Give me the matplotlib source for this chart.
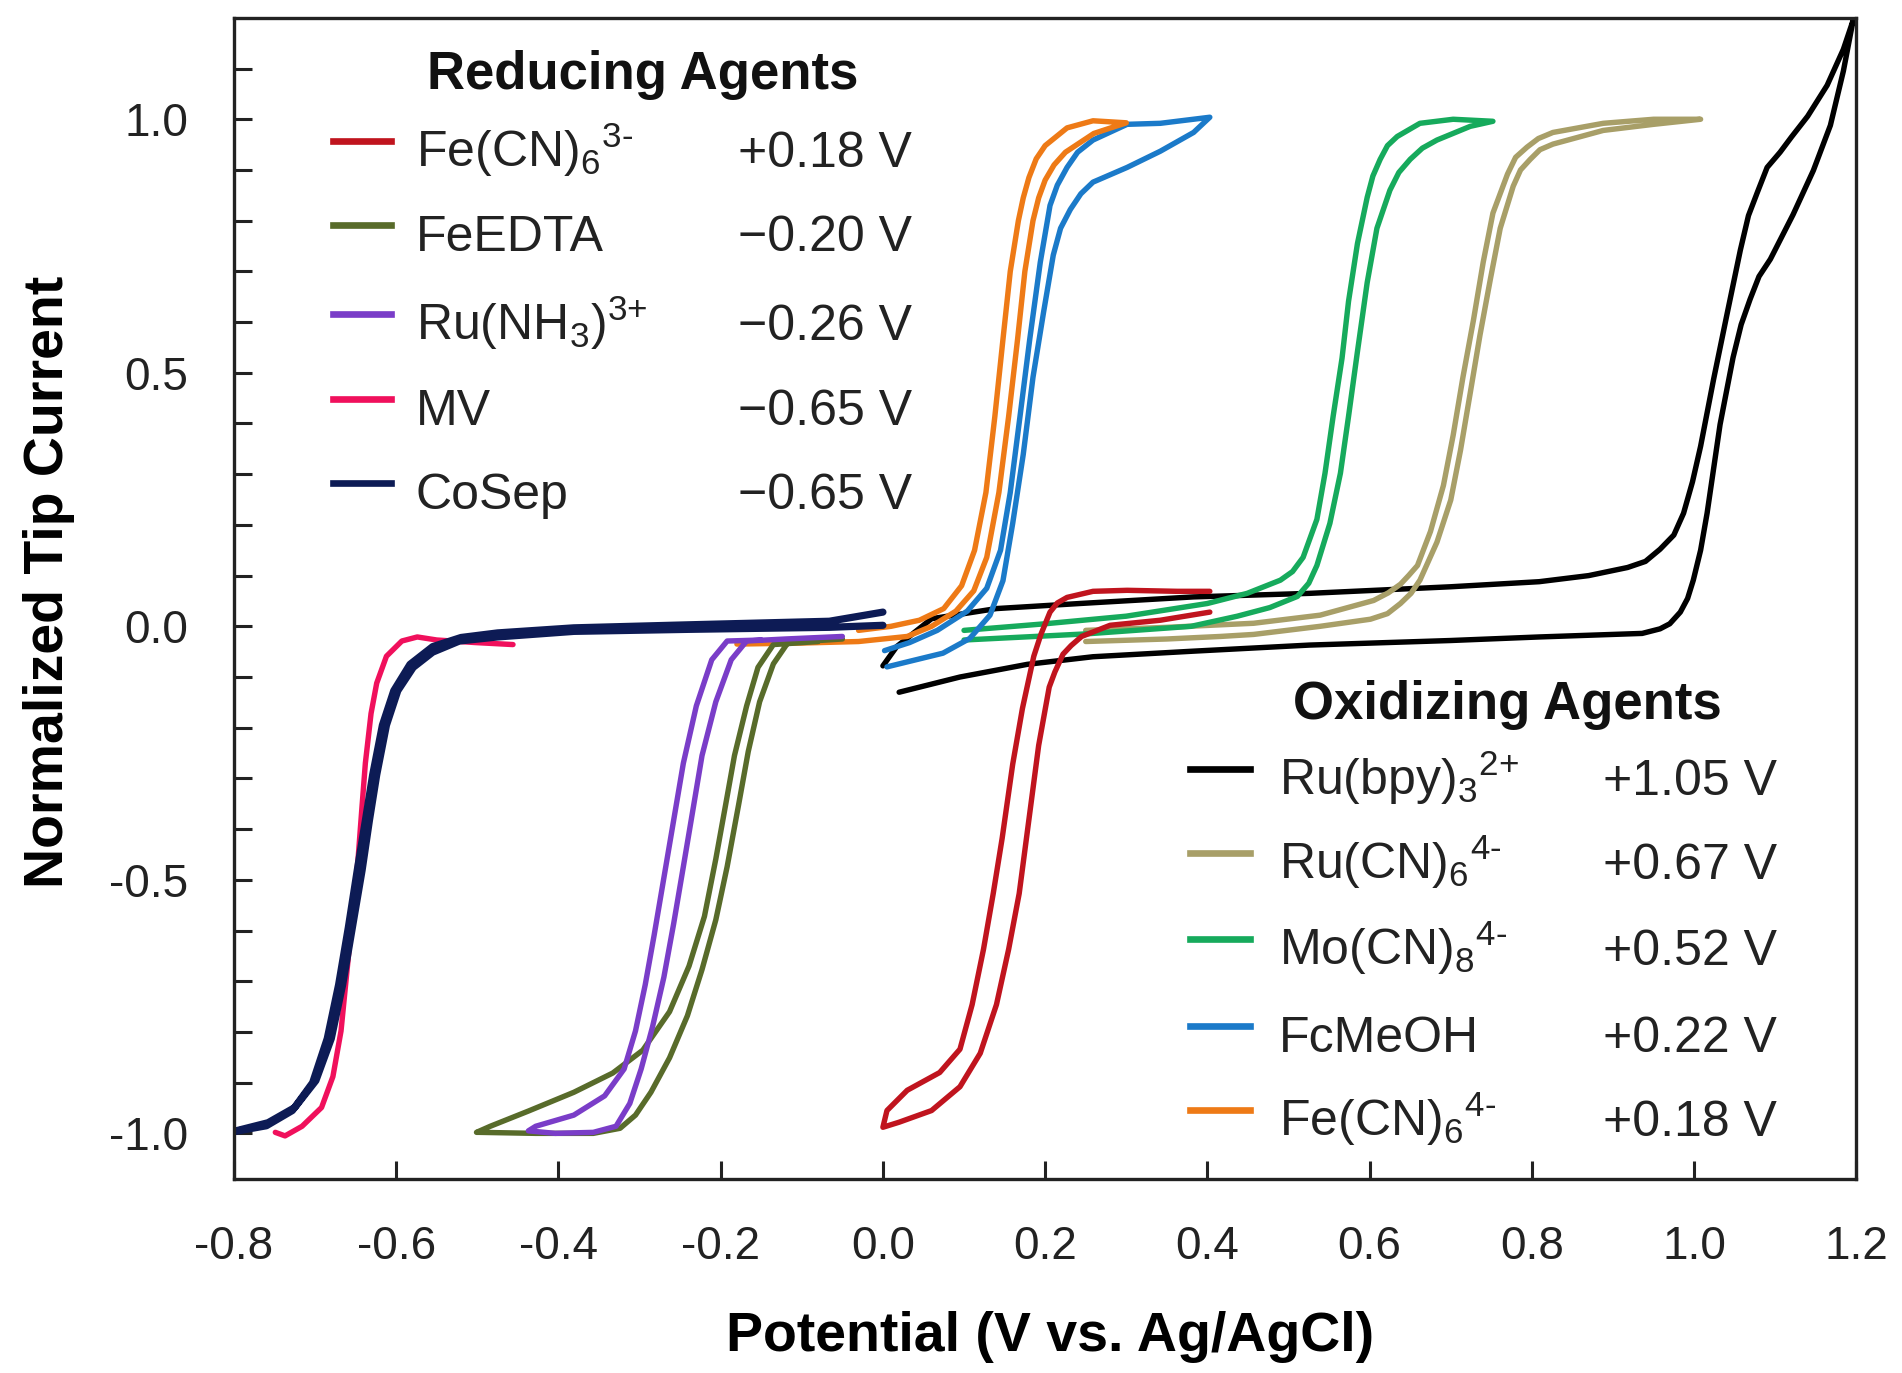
import matplotlib
matplotlib.use("Agg")
import matplotlib.pyplot as plt
from matplotlib.lines import Line2D

plt.rcParams['font.family'] = ['Liberation Sans', 'DejaVu Sans']
plt.rcParams['mathtext.fontset'] = 'custom'
plt.rcParams['mathtext.rm'] = 'Liberation Sans'
plt.rcParams['mathtext.it'] = 'Liberation Sans:italic'
plt.rcParams['mathtext.bf'] = 'Liberation Sans:bold'
plt.rcParams['mathtext.default'] = 'regular'
plt.rcParams['axes.unicode_minus'] = False

# ---------------- data (potential V vs Ag/AgCl, normalized tip current) ----------------
# Ru(bpy)3 2+ (black)
rubpy_E = [0.020, 0.095, 0.178, 0.259, 0.383, 0.526, 0.700, 0.809, 0.936, 0.958, 0.970, 0.983, 0.992,
           0.999, 1.008, 1.016, 1.032, 1.048, 1.058, 1.069, 1.080, 1.094, 1.122, 1.147, 1.168, 1.184,
           1.196,
           1.184, 1.164, 1.140, 1.120, 1.106, 1.090, 1.078, 1.067, 1.057, 1.041, 1.024, 1.008, 0.998,
           0.987, 0.975, 0.958, 0.940, 0.918, 0.870, 0.809, 0.700, 0.526, 0.383, 0.243, 0.140, 0.060,
           0.017, 0.000]
rubpy_I = [-0.130, -0.100, -0.075, -0.060, -0.049, -0.037, -0.028, -0.021, -0.014, -0.005, 0.005, 0.028, 0.055,
           0.091, 0.150, 0.223, 0.398, 0.530, 0.595, 0.645, 0.690, 0.724, 0.812, 0.899, 0.988, 1.095,
           1.195,
           1.138, 1.067, 1.006, 0.965, 0.935, 0.905, 0.856, 0.810, 0.742, 0.619, 0.487, 0.355, 0.285,
           0.223, 0.180, 0.152, 0.128, 0.116, 0.100, 0.088, 0.078, 0.065, 0.058, 0.045, 0.035, 0.015,
           -0.040, -0.078]

# Ru(CN)6 4- (tan)
rucn_E = [0.250, 0.350, 0.416, 0.457, 0.539, 0.601, 0.622, 0.638, 0.651, 0.662, 0.683, 0.700, 0.712,
          0.724, 0.736, 0.749, 0.761, 0.777, 0.786, 0.798, 0.810, 0.826, 0.888, 0.950, 1.008,
          0.950, 0.888, 0.826, 0.808, 0.794, 0.780, 0.770, 0.752, 0.740, 0.728, 0.715, 0.703, 0.691,
          0.675, 0.659, 0.648, 0.638, 0.623, 0.605, 0.539, 0.457, 0.350, 0.250]
rucn_I = [-0.030, -0.025, -0.020, -0.016, 0.000, 0.014, 0.025, 0.045, 0.065, 0.091, 0.166, 0.249, 0.347,
          0.460, 0.574, 0.686, 0.785, 0.868, 0.900, 0.921, 0.940, 0.951, 0.978, 0.990, 1.000,
          1.000, 0.992, 0.974, 0.962, 0.945, 0.925, 0.892, 0.815, 0.718, 0.604, 0.491, 0.377, 0.278,
          0.187, 0.120, 0.100, 0.083, 0.066, 0.051, 0.022, 0.006, -0.002, -0.008]

# Mo(CN)8 4- (green)
mocn_E = [0.100, 0.250, 0.380, 0.437, 0.477, 0.511, 0.525, 0.535, 0.551, 0.564, 0.574, 0.585, 0.597,
          0.609, 0.625, 0.636, 0.650, 0.665, 0.683, 0.724, 0.752,
          0.703, 0.662, 0.634, 0.622, 0.613, 0.604, 0.597, 0.585, 0.574, 0.566, 0.555, 0.545, 0.535,
          0.518, 0.505, 0.490, 0.449, 0.400, 0.300, 0.200, 0.100]
mocn_I = [-0.027, -0.015, 0.000, 0.020, 0.037, 0.059, 0.085, 0.120, 0.203, 0.302, 0.414, 0.542, 0.678,
          0.785, 0.860, 0.895, 0.921, 0.943, 0.959, 0.986, 0.996,
          1.000, 0.992, 0.966, 0.948, 0.921, 0.888, 0.846, 0.755, 0.641, 0.529, 0.414, 0.302, 0.211,
          0.136, 0.108, 0.091, 0.065, 0.045, 0.020, 0.005, -0.008]

# FcMeOH (blue)
fc_E = [0.005, 0.033, 0.074, 0.107, 0.132, 0.148, 0.160, 0.173, 0.185, 0.198, 0.210, 0.219, 0.231,
        0.244, 0.259, 0.301, 0.342, 0.383, 0.403,
        0.342, 0.301, 0.259, 0.240, 0.227, 0.215, 0.206, 0.194, 0.181, 0.169, 0.157, 0.145, 0.128,
        0.104, 0.067, 0.033, 0.002]
fc_I = [-0.080, -0.069, -0.053, -0.024, 0.022, 0.090, 0.203, 0.339, 0.491, 0.619, 0.732, 0.785, 0.822,
        0.853, 0.876, 0.905, 0.937, 0.974, 1.004,
        0.992, 0.990, 0.959, 0.935, 0.905, 0.870, 0.830, 0.718, 0.566, 0.414, 0.264, 0.150, 0.075,
        0.030, -0.008, -0.032, -0.048]

# Fe(CN)6 4- (orange)
fe4_E = [-0.180, -0.100, -0.030, 0.030, 0.060, 0.090, 0.112, 0.128, 0.143, 0.155, 0.166, 0.175, 0.185,
         0.192, 0.200, 0.211, 0.225, 0.260, 0.300,
         0.259, 0.227, 0.200, 0.189, 0.180, 0.173, 0.167, 0.157, 0.148, 0.138, 0.127, 0.113, 0.097,
         0.075, 0.045, 0.010, -0.030]
fe4_I = [-0.035, -0.033, -0.030, -0.020, 0.000, 0.030, 0.070, 0.136, 0.264, 0.414, 0.566, 0.700, 0.800,
         0.845, 0.880, 0.910, 0.935, 0.972, 0.993,
         0.997, 0.983, 0.948, 0.922, 0.885, 0.845, 0.800, 0.700, 0.566, 0.414, 0.264, 0.150, 0.080,
         0.035, 0.012, 0.000, -0.008]

# Fe(CN)6 3- (red)
fe3_E = [0.403, 0.342, 0.280, 0.245, 0.232, 0.222, 0.212, 0.205, 0.192, 0.180, 0.168, 0.155, 0.140,
         0.120, 0.095, 0.060, 0.020, 0.000,
         0.005, 0.030, 0.070, 0.095, 0.110, 0.124, 0.136, 0.147, 0.160, 0.172, 0.186, 0.195, 0.206,
         0.215, 0.227, 0.259, 0.301, 0.363, 0.403]
fe3_I = [0.028, 0.012, 0.002, -0.020, -0.038, -0.055, -0.090, -0.120, -0.235, -0.381, -0.527, -0.637, -0.746,
         -0.842, -0.908, -0.955, -0.978, -0.988,
         -0.955, -0.915, -0.880, -0.834, -0.746, -0.637, -0.527, -0.418, -0.272, -0.162, -0.059, -0.015, 0.028,
         0.046, 0.057, 0.069, 0.071, 0.069, 0.069]

# FeEDTA (olive)
feedta_E = [-0.050, -0.117, -0.135, -0.152, -0.166, -0.178, -0.192, -0.206, -0.223, -0.241, -0.263, -0.286,
            -0.305, -0.324, -0.357, -0.428, -0.498,
            -0.501, -0.484, -0.437, -0.381, -0.333, -0.296, -0.263, -0.239, -0.220, -0.206, -0.194,
            -0.183, -0.168, -0.154, -0.135, -0.080]
feedta_I = [-0.025, -0.032, -0.074, -0.149, -0.247, -0.353, -0.474, -0.579, -0.677, -0.768, -0.851, -0.919,
            -0.964, -0.990, -1.000, -1.000, -0.998,
            -0.998, -0.986, -0.956, -0.919, -0.881, -0.836, -0.760, -0.670, -0.572, -0.459, -0.353,
            -0.255, -0.157, -0.081, -0.036, -0.030]

# Ru(NH3)6 3+ (purple)
runh3_E = [-0.050, -0.120, -0.168, -0.187, -0.206, -0.223, -0.234, -0.246, -0.258, -0.270, -0.284, -0.298,
           -0.312, -0.329, -0.357, -0.404, -0.437,
           -0.428, -0.381, -0.343, -0.319, -0.305, -0.293, -0.282, -0.270, -0.258, -0.246, -0.230,
           -0.211, -0.192, -0.150]
runh3_I = [-0.020, -0.025, -0.029, -0.066, -0.149, -0.255, -0.360, -0.474, -0.587, -0.692, -0.790, -0.873,
           -0.941, -0.986, -0.998, -1.000, -0.995,
           -0.986, -0.964, -0.926, -0.873, -0.798, -0.707, -0.609, -0.496, -0.383, -0.270, -0.157,
           -0.066, -0.029, -0.027]

# MV (pink)
mv_E = [-0.456, -0.503, -0.550, -0.574, -0.593, -0.612, -0.624, -0.631, -0.638, -0.642, -0.647, -0.654,
        -0.661, -0.668, -0.678, -0.692, -0.716, -0.737, -0.749]
mv_I = [-0.036, -0.032, -0.027, -0.021, -0.029, -0.059, -0.112, -0.172, -0.270, -0.353, -0.459, -0.572,
        -0.685, -0.798, -0.888, -0.949, -0.986, -1.005, -0.998]

# CoSep (navy)
cosep_E = [0.000, -0.066, -0.239, -0.381, -0.475, -0.522, -0.555, -0.579, -0.598, -0.612, -0.624, -0.633,
           -0.642, -0.654, -0.666, -0.680, -0.699, -0.725, -0.758, -0.805,
           -0.760, -0.728, -0.703, -0.685, -0.671, -0.659, -0.648, -0.638, -0.629, -0.617, -0.603,
           -0.583, -0.555, -0.520, -0.475, -0.381, -0.239, -0.066, 0.000]
cosep_I = [0.002, -0.002, -0.006, -0.010, -0.021, -0.029, -0.051, -0.081, -0.127, -0.195, -0.293, -0.383,
           -0.481, -0.594, -0.707, -0.813, -0.896, -0.949, -0.979, -0.998,
           -0.985, -0.955, -0.900, -0.813, -0.707, -0.594, -0.481, -0.383, -0.293, -0.195, -0.127,
           -0.075, -0.040, -0.022, -0.013, -0.003, 0.003, 0.010, 0.028]

# legend tables
reducing_names = [r"Fe(CN)$_6$$^{3\text{-}}$", "FeEDTA", r"Ru(NH$_3$)$^{3\text{+}}$", "MV", "CoSep"]
reducing_values = ["+0.18 V", "\u22120.20 V", "\u22120.26 V", "\u22120.65 V", "\u22120.65 V"]
oxidizing_names = [r"Ru(bpy)$_3$$^{2\text{+}}$", r"Ru(CN)$_6$$^{4\text{-}}$", r"Mo(CN)$_8$$^{4\text{-}}$",
                   "FcMeOH", r"Fe(CN)$_6$$^{4\text{-}}$"]
oxidizing_values = ["+1.05 V", "+0.67 V", "+0.52 V", "+0.22 V", "+0.18 V"]

x_ticks = [-0.8, -0.6, -0.4, -0.2, 0.0, 0.2, 0.4, 0.6, 0.8, 1.0, 1.2]
x_labels = ["-0.8", "-0.6", "-0.4", "-0.2", "0.0", "0.2", "0.4", "0.6", "0.8", "1.0", "1.2"]
y_ticks = [-1.0, -0.5, 0.0, 0.5, 1.0]
y_labels = ["-1.0", "-0.5", "0.0", "0.5", "1.0"]
y_minor = [-1.0, -0.9, -0.8, -0.7, -0.6, -0.5, -0.4, -0.3, -0.2, -0.1, 0.0,
           0.1, 0.2, 0.3, 0.4, 0.5, 0.6, 0.7, 0.8, 0.9, 1.0, 1.1]

# colours
C = {
    'fe3': '#C0141E', 'feedta': '#586B2A', 'runh3': '#7A3DC8', 'mv': '#F0105C', 'cosep': '#0D1B55',
    'rubpy': '#000000', 'rucn': '#A89F68', 'mocn': '#16AA5C', 'fc': '#1B7AC9', 'fe4': '#EE7A16',
}

# ---------------- figure ----------------
fig = plt.figure(figsize=(19.02, 13.73), dpi=100)
ax = fig.add_axes([0.123, 0.1413, 0.853, 0.8457])

lw = 3.9
style = dict(solid_capstyle='round', solid_joinstyle='round')
ax.plot(rubpy_E, rubpy_I, color=C['rubpy'], lw=lw, **style)
ax.plot(rucn_E, rucn_I, color=C['rucn'], lw=lw, **style)
ax.plot(mocn_E, mocn_I, color=C['mocn'], lw=lw, **style)
ax.plot(fc_E, fc_I, color=C['fc'], lw=lw, **style)
ax.plot(fe4_E, fe4_I, color=C['fe4'], lw=lw, **style)
ax.plot(fe3_E, fe3_I, color=C['fe3'], lw=lw, **style)
ax.plot(feedta_E, feedta_I, color=C['feedta'], lw=lw, **style)
ax.plot(runh3_E, runh3_I, color=C['runh3'], lw=lw, **style)
ax.plot(mv_E, mv_I, color=C['mv'], lw=lw, **style)
ax.plot(cosep_E, cosep_I, color=C['cosep'], lw=5.2, **style)

ax.set_xlim(-0.8, 1.2)
ax.set_ylim(-1.09, 1.2)
ax.set_xticks(x_ticks)
ax.set_xticklabels(x_labels)
ax.set_yticks(y_ticks)
ax.set_yticklabels(y_labels)
ax.set_yticks(y_minor, minor=True)
ax.tick_params(axis='both', which='both', direction='in', length=13, width=2.2, color='#222222')
ax.tick_params(axis='both', which='major', labelsize=33, pad=33, labelcolor='#222222')
ax.tick_params(axis='x', which='both', top=False)
ax.tick_params(axis='y', which='both', right=False)
for s in ax.spines.values():
    s.set_linewidth(2.4)
    s.set_color('#222222')

ax.set_xlabel("Potential (V vs. Ag/AgCl)", fontsize=40, fontweight='bold')
ax.xaxis.set_label_coords(0.503, -0.114)
ax.set_ylabel("Normalized Tip Current", fontsize=40, fontweight='bold')
ax.yaxis.set_label_coords(-0.098, 0.514)

# ---------------- manual legends ----------------
def legend_block(title, title_xy, names, values, colors, handle_x, handle_ys, name_x, value_x):
    ax.text(title_xy[0], title_xy[1], title, transform=ax.transAxes, fontsize=38,
            fontweight='bold', ha='center', va='baseline', color='#111111')
    for nm, val, col, hy in zip(names, values, colors, handle_ys):
        ax.add_line(Line2D(handle_x, [hy, hy], transform=ax.transAxes, color=col, lw=4.8,
                           clip_on=False))
        by = hy - 0.0224
        ax.text(name_x, by, nm, transform=ax.transAxes, fontsize=36, ha='left', va='baseline',
                color='#222222')
        ax.text(value_x, by, val, transform=ax.transAxes, fontsize=36, ha='right', va='baseline',
                color='#222222')

legend_block("Reducing Agents", (0.252, 0.939), reducing_names, reducing_values,
             [C['fe3'], C['feedta'], C['runh3'], C['mv'], C['cosep']],
             [0.061, 0.097], [0.894, 0.822, 0.745, 0.672, 0.599], 0.112, 0.418)
legend_block("Oxidizing Agents", (0.785, 0.396), oxidizing_names, oxidizing_values,
             [C['rubpy'], C['rucn'], C['mocn'], C['fc'], C['fe4']],
             [0.589, 0.626], [0.353, 0.281, 0.207, 0.132, 0.059], 0.644, 0.951)

fig.savefig("out.png", dpi=100)
